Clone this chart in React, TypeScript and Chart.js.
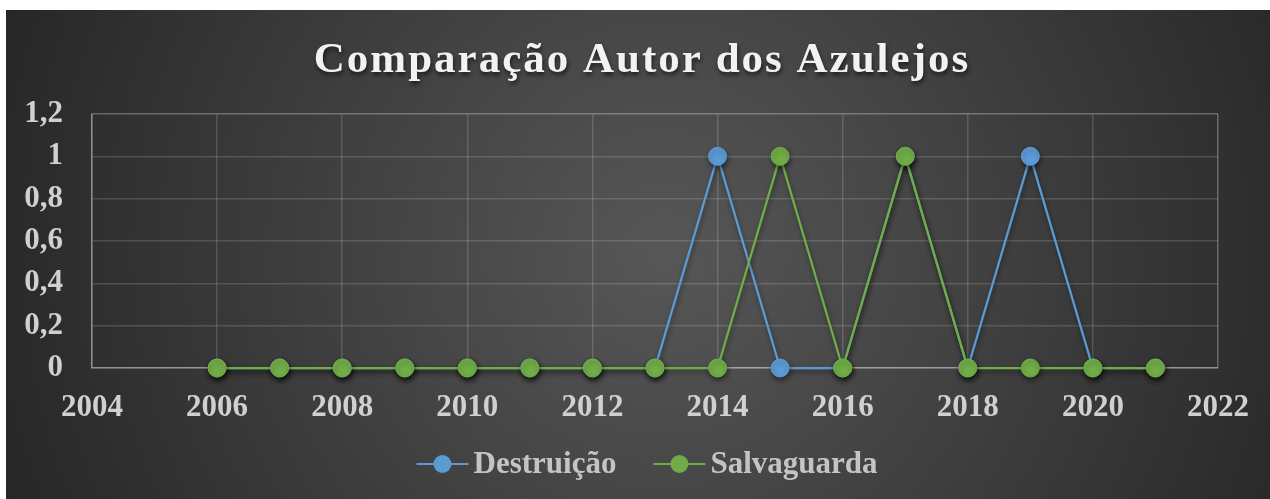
import { useEffect, useRef } from "react";
import { Chart, registerables } from "chart.js";

Chart.register(...registerables);

const title = "Comparação Autor dos Azulejos";
const years = [2006, 2007, 2008, 2009, 2010, 2011, 2012, 2013, 2014, 2015, 2016, 2017, 2018, 2019, 2020, 2021];
const destruicao = [0, 0, 0, 0, 0, 0, 0, 0, 1, 0, 0, 1, 0, 1, 0, 0];
const salvaguarda = [0, 0, 0, 0, 0, 0, 0, 0, 0, 1, 0, 1, 0, 0, 0, 0];
const seriesNames = ["Destruição", "Salvaguarda"];
const seriesColors = ["#5B9BD5", "#70AD47"];
const xMin = 2004;
const xMax = 2022;
const xStep = 2;
const yMin = 0;
const yMax = 1.2;
const yStep = 0.2;

const FONT = "'Liberation Serif', 'Times New Roman', serif";
const TICK_COLOR = "#d0d0d0";

const bgPlugin = {
  id: "bg",
  beforeDraw(chart: any) {
    const { ctx, width, height } = chart;
    ctx.save();
    const cx = width * 0.52;
    const cy = height * 0.5;
    const g = ctx.createRadialGradient(cx, cy, 0, cx, cy, width * 0.56);
    g.addColorStop(0, "#575757");
    g.addColorStop(1, "#262626");
    ctx.fillStyle = g;
    ctx.fillRect(0, 0, width, height);
    ctx.restore();
  },
};

const shadowPlugin = {
  id: "shadow",
  beforeDatasetsDraw(chart: any) {
    const ctx = chart.ctx;
    ctx.save();
    ctx.shadowColor = "rgba(0,0,0,0.45)";
    ctx.shadowBlur = 5;
    ctx.shadowOffsetX = 1;
    ctx.shadowOffsetY = 3;
  },
  afterDatasetsDraw(chart: any) {
    chart.ctx.restore();
  },
};

const titlePlugin = {
  id: "customTitle",
  afterDraw(chart: any) {
    const ctx = chart.ctx;
    ctx.save();
    ctx.font = `bold 43px ${FONT}`;
    (ctx as any).letterSpacing = "2px";
    ctx.fillStyle = "#f2f2f2";
    ctx.textAlign = "center";
    ctx.textBaseline = "alphabetic";
    ctx.shadowColor = "rgba(0,0,0,0.6)";
    ctx.shadowBlur = 4;
    ctx.shadowOffsetX = 1;
    ctx.shadowOffsetY = 3;
    ctx.fillText(title, 636, 62);
    ctx.restore();
  },
};

const legendPlugin = {
  id: "customLegend",
  afterDraw(chart: any) {
    const ctx = chart.ctx;
    ctx.save();
    ctx.font = `bold 31px ${FONT}`;
    const lineW = 52;
    const gap = 5;
    const itemGap = 37;
    const widths = seriesNames.map((n) => lineW + gap + ctx.measureText(n).width);
    const total = widths.reduce((a, b) => a + b, 0) + itemGap * (seriesNames.length - 1);
    let x = 641 - total / 2;
    const y = 454;
    seriesNames.forEach((name, i) => {
      ctx.strokeStyle = seriesColors[i];
      ctx.lineWidth = 2;
      ctx.beginPath();
      ctx.moveTo(x, y);
      ctx.lineTo(x + lineW, y);
      ctx.stroke();
      ctx.fillStyle = seriesColors[i];
      ctx.beginPath();
      ctx.arc(x + lineW / 2, y, 9, 0, Math.PI * 2);
      ctx.fill();
      ctx.fillStyle = "#c4c4c4";
      ctx.textAlign = "left";
      ctx.textBaseline = "middle";
      ctx.fillText(name, x + lineW + gap, y + 1);
      x += widths[i] + itemGap;
    });
    ctx.restore();
  },
};

export default function App() {
  const ref = useRef<HTMLCanvasElement | null>(null);

  useEffect(() => {
    if (!ref.current) return;
    const gridColor = (c: any) => {
      const n = c.scale.ticks.length;
      return c.index === 0 || c.index === n - 1 ? "rgba(255,255,255,0.28)" : "rgba(255,255,255,0.15)";
    };
    const chart = new Chart(ref.current, {
      type: "line",
      data: {
        datasets: [
          {
            label: seriesNames[0],
            data: years.map((y, i) => ({ x: y, y: destruicao[i] })),
            borderColor: seriesColors[0],
            backgroundColor: seriesColors[0],
            pointBackgroundColor: seriesColors[0],
            pointBorderColor: seriesColors[0],
            borderWidth: 2.25,
            pointRadius: 9,
            pointHoverRadius: 9,
            pointBorderWidth: 1,
            tension: 0,
            order: 1,
            clip: false,
          },
          {
            label: seriesNames[1],
            data: years.map((y, i) => ({ x: y, y: salvaguarda[i] })),
            borderColor: seriesColors[1],
            backgroundColor: seriesColors[1],
            pointBackgroundColor: seriesColors[1],
            pointBorderColor: seriesColors[1],
            borderWidth: 2.25,
            pointRadius: 9,
            pointHoverRadius: 9,
            pointBorderWidth: 1,
            tension: 0,
            order: 0,
            clip: false,
          },
        ],
      },
      options: {
        responsive: false,
        animation: false,
        devicePixelRatio: 1,
        layout: { padding: { top: 104, left: 19, right: 47, bottom: 0 } },
        plugins: {
          legend: { display: false },
          title: { display: false },
          tooltip: { enabled: false },
        },
        scales: {
          x: {
            type: "linear",
            min: xMin,
            max: xMax,
            ticks: {
              stepSize: xStep,
              padding: 21,
              color: TICK_COLOR,
              font: { family: FONT, size: 31, weight: "bold" },
              callback: (v: any) => String(v),
              maxRotation: 0,
            },
            grid: { color: gridColor, drawTicks: false, lineWidth: 1.5 },
            border: { display: true, color: "rgba(255,255,255,0.28)", width: 1.5 },
            afterFit: (s: any) => {
              s.height = 131;
            },
          },
          y: {
            type: "linear",
            min: yMin,
            max: yMax,
            ticks: {
              stepSize: yStep,
              padding: 29,
              color: TICK_COLOR,
              font: { family: FONT, size: 31, weight: "bold" },
              callback: (v: any) => String(Math.round(Number(v) * 10) / 10).replace(".", ","),
            },
            grid: { color: gridColor, drawTicks: false, lineWidth: 1.5 },
            border: { display: true, color: "rgba(255,255,255,0.28)", width: 1.5 },
            afterFit: (s: any) => {
              s.width = 67;
            },
          },
        },
      },
      plugins: [bgPlugin, shadowPlugin, titlePlugin, legendPlugin],
    } as any);
    return () => chart.destroy();
  }, []);

  return (
    <div style={{ position: "absolute", left: 6, top: 10, width: 1264, height: 489 }}>
      <canvas ref={ref} width={1264} height={489} style={{ display: "block" }} />
    </div>
  );
}
